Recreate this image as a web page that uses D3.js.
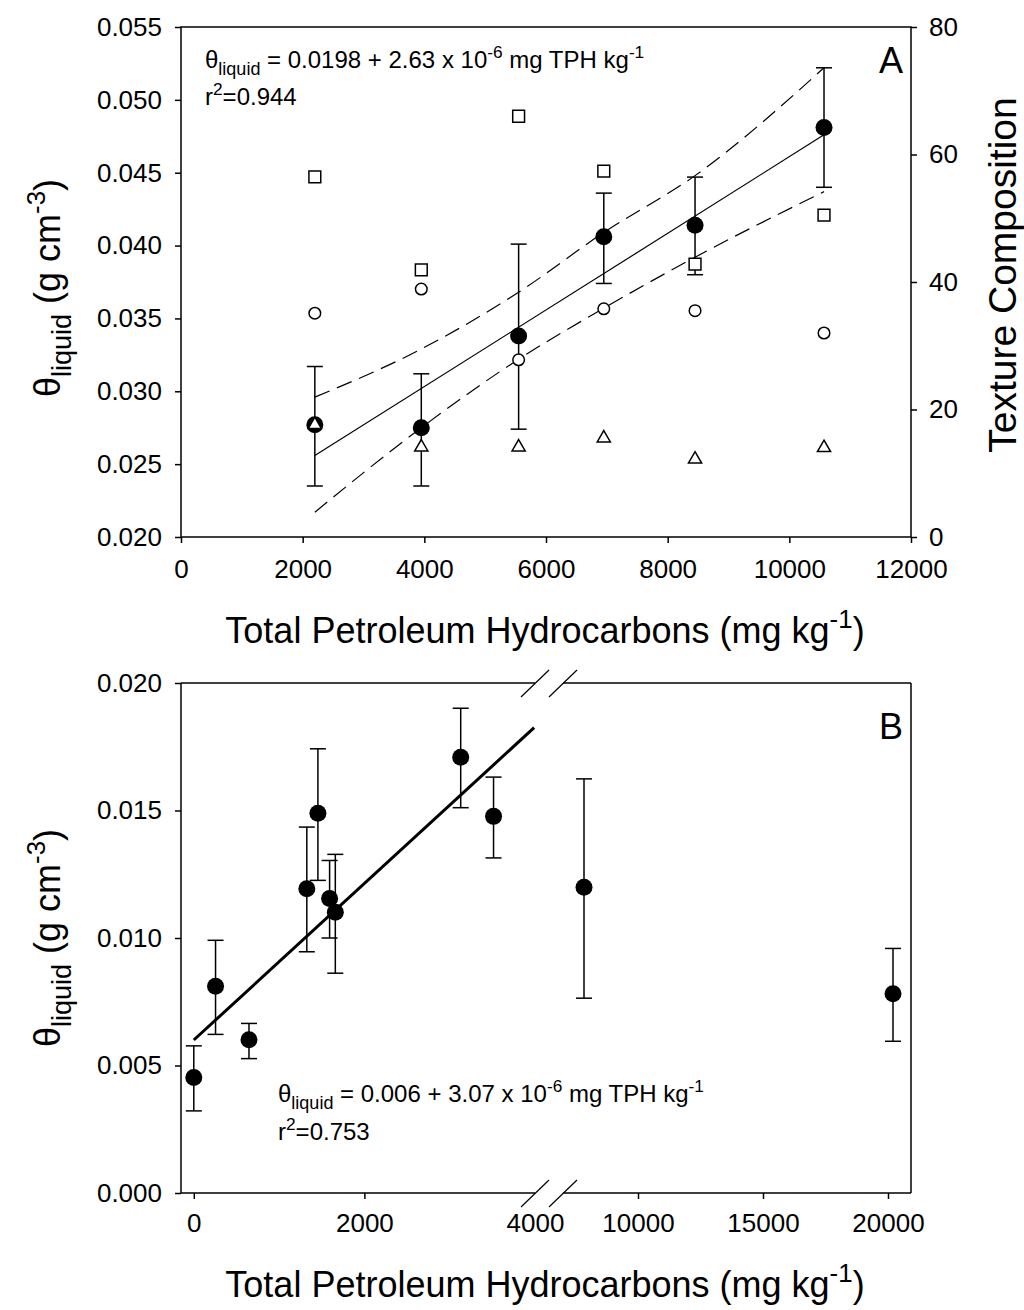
<!DOCTYPE html>
<html>
<head>
<meta charset="utf-8">
<title>Liquid content vs TPH</title>
<script src="https://d3js.org/d3.v7.min.js"></script>
<style>
  body { margin: 0; background: #fff; }
  text { font-family: "Liberation Sans", Arial, sans-serif; fill: #000; }
</style>
</head>
<body>
<svg id="chart" width="1024" height="1310"></svg>
<script>
// ---- panel A data ----
var tphA = [2200, 3950, 5550, 6950, 8450, 10570];
var thetaA = [0.0277, 0.0275, 0.0338, 0.0406, 0.0414, 0.0481];
var errHiA = [0.0317, 0.0312, 0.0401, 0.0436, 0.0447, 0.0522];
var errLoA = [0.0235, 0.0235, 0.0274, 0.0374, 0.0380, 0.0440];
var texSquare = [56.5, 41.9, 66.0, 57.4, 42.8, 50.5];
var texCircle = [35.1, 38.9, 27.8, 35.8, 35.5, 32.0];
var texTriangle = [17.6, 14.1, 14.1, 15.5, 12.2, 14.0];
var bandX = [2200, 3950, 5550, 6950, 8450, 10570];
var bandUpper = [0.0296, 0.0329, 0.0368, 0.0409, 0.0448, 0.0522];
var bandLower = [0.0217, 0.0275, 0.0322, 0.0357, 0.0392, 0.0437];
var fitA = { a: 0.0198, b: 2.63e-6, x0: 2200, x1: 10570 };

// ---- panel B data ----
var tphB = [0, 255, 647, 1325, 1455, 1592, 1659, 3129, 3514, 7840, 20200];
var thetaB = [0.00453, 0.00811, 0.00601, 0.01193, 0.01489, 0.01155, 0.01101, 0.01709, 0.01477, 0.01199, 0.00781];
var errHiB = [0.00577, 0.00991, 0.00665, 0.01435, 0.01742, 0.01304, 0.01328, 0.01901, 0.01631, 0.01624, 0.00959];
var errLoB = [0.00322, 0.00622, 0.00527, 0.00946, 0.01226, 0.01000, 0.00862, 0.01511, 0.01314, 0.00764, 0.00595];
var fitB = { a: 0.006, b: 3.07e-6, x0: 0, x1: 3990 };

// ---- tick labels ----
var ticksYA = [0.020, 0.025, 0.030, 0.035, 0.040, 0.045, 0.050, 0.055];
var ticksXA = [0, 2000, 4000, 6000, 8000, 10000, 12000];
var ticksTex = [0, 20, 40, 60, 80];
var ticksYB = [0.000, 0.005, 0.010, 0.015, 0.020];
var ticksXBL = [0, 2000, 4000];
var ticksXBR = [10000, 15000, 20000];

var svg = d3.select('#chart');
var TICK_FONT = 26, TITLE_FONT = 36, NOTE_FONT = 24;

// text with sub/superscripts
function rich(sel, parts, size) {
  var shift = 0;
  parts.forEach(function(p) {
    var target = 0, fs = size;
    if (p[1] === 'sub') { target = size * 0.3; fs = size * 0.75; }
    if (p[1] === 'sup') { target = -size * 0.42; fs = size * 0.72; }
    sel.append('tspan').attr('font-size', fs).attr('dy', target - shift).text(p[0]);
    shift = target;
  });
}

function styleAxis(g) {
  g.select('.domain').remove();
  g.selectAll('.tick line').attr('stroke', '#000').attr('stroke-width', 1.5);
  g.selectAll('.tick text').attr('font-size', TICK_FONT).attr('fill', '#000')
    .attr('font-family', '"Liberation Sans", Arial, sans-serif');
}

// ================= Panel A =================
var xA = d3.scaleLinear().domain([0, 12000]).range([181, 911]);
var yA = d3.scaleLinear().domain([0.020, 0.055]).range([537, 27]);
var yTex = d3.scaleLinear().domain([0, 80]).range([537, 27]);

var gA = svg.append('g');

gA.append('g').attr('transform', 'translate(0,537)')
  .call(d3.axisBottom(xA).tickValues(ticksXA).tickFormat(d3.format('d')).tickSize(6).tickPadding(17))
  .call(styleAxis);
gA.append('g').attr('transform', 'translate(181,0)')
  .call(d3.axisLeft(yA).tickValues(ticksYA).tickFormat(d3.format('.3f')).tickSize(6).tickPadding(13))
  .call(styleAxis);
gA.append('g').attr('transform', 'translate(911,0)')
  .call(d3.axisRight(yTex).tickValues(ticksTex).tickFormat(d3.format('d')).tickSize(6).tickPadding(12))
  .call(styleAxis);

gA.append('rect').attr('x', 181).attr('y', 27).attr('width', 730).attr('height', 510)
  .attr('fill', 'none').attr('stroke', '#000').attr('stroke-width', 1.5);

// error bars
var ebA = gA.append('g').attr('stroke', '#000').attr('stroke-width', 1.5);
tphA.forEach(function(x, i) {
  var px = xA(x);
  ebA.append('line').attr('x1', px).attr('x2', px).attr('y1', yA(errHiA[i])).attr('y2', yA(errLoA[i]));
  ebA.append('line').attr('x1', px - 8).attr('x2', px + 8).attr('y1', yA(errHiA[i])).attr('y2', yA(errHiA[i]));
  ebA.append('line').attr('x1', px - 8).attr('x2', px + 8).attr('y1', yA(errLoA[i])).attr('y2', yA(errLoA[i]));
});

// regression + confidence band
gA.append('line')
  .attr('x1', xA(fitA.x0)).attr('y1', yA(fitA.a + fitA.b * fitA.x0))
  .attr('x2', xA(fitA.x1)).attr('y2', yA(fitA.a + fitA.b * fitA.x1))
  .attr('stroke', '#000').attr('stroke-width', 1.2);

var bandLine = d3.line().curve(d3.curveMonotoneX)
  .x(function(d) { return xA(d[0]); }).y(function(d) { return yA(d[1]); });
[bandUpper, bandLower].forEach(function(arr) {
  gA.append('path').attr('d', bandLine(d3.zip(bandX, arr)))
    .attr('fill', 'none').attr('stroke', '#000').attr('stroke-width', 1.2)
    .attr('stroke-dasharray', '16,8');
});

// mean theta points
gA.selectAll('circle.mean').data(d3.zip(tphA, thetaA)).enter().append('circle')
  .attr('class', 'mean').attr('cx', function(d) { return xA(d[0]); })
  .attr('cy', function(d) { return yA(d[1]); }).attr('r', 8.5).attr('fill', '#000');

// texture composition
gA.selectAll('path.sq').data(d3.zip(tphA, texSquare)).enter().append('path')
  .attr('class', 'sq').attr('d', d3.symbol().type(d3.symbolSquare).size(140))
  .attr('transform', function(d) { return 'translate(' + xA(d[0]) + ',' + yTex(d[1]) + ')'; })
  .attr('fill', '#fff').attr('stroke', '#000').attr('stroke-width', 1.5);
gA.selectAll('circle.tc').data(d3.zip(tphA, texCircle)).enter().append('circle')
  .attr('class', 'tc').attr('cx', function(d) { return xA(d[0]); })
  .attr('cy', function(d) { return yTex(d[1]); }).attr('r', 5.8)
  .attr('fill', '#fff').attr('stroke', '#000').attr('stroke-width', 1.5);
gA.selectAll('path.tri').data(d3.zip(tphA, texTriangle)).enter().append('path')
  .attr('class', 'tri').attr('d', d3.symbol().type(d3.symbolTriangle).size(75))
  .attr('transform', function(d) { return 'translate(' + xA(d[0]) + ',' + yTex(d[1]) + ')'; })
  .attr('fill', '#fff').attr('stroke', '#000').attr('stroke-width', 1.5);

// annotation
rich(gA.append('text').attr('x', 205).attr('y', 68).attr('font-size', NOTE_FONT),
  [['\u03b8', 'n'], ['liquid', 'sub'], [' = 0.0198 + 2.63 x 10', 'n'], ['-6', 'sup'], [' mg TPH kg', 'n'], ['-1', 'sup']], NOTE_FONT);
rich(gA.append('text').attr('x', 205).attr('y', 105).attr('font-size', NOTE_FONT),
  [['r', 'n'], ['2', 'sup'], ['=0.944', 'n']], NOTE_FONT);
gA.append('text').attr('x', 903).attr('y', 73).attr('text-anchor', 'end').attr('font-size', 36).text('A');

// axis titles
rich(gA.append('text').attr('x', 545).attr('y', 643).attr('text-anchor', 'middle').attr('font-size', TITLE_FONT),
  [['Total Petroleum Hydrocarbons (mg kg', 'n'], ['-1', 'sup'], [')', 'n']], TITLE_FONT);
rich(gA.append('text').attr('transform', 'translate(60,288) rotate(-90)').attr('text-anchor', 'middle').attr('font-size', TITLE_FONT),
  [['\u03b8', 'n'], ['liquid', 'sub'], [' (g cm', 'n'], ['-3', 'sup'], [')', 'n']], TITLE_FONT);
gA.append('text').attr('transform', 'translate(1016,275) rotate(-90)').attr('text-anchor', 'middle')
  .attr('font-size', 39).text('Texture Composition');

// ================= Panel B =================
var yB = d3.scaleLinear().domain([0, 0.020]).range([1193, 683]);
var xBL = d3.scaleLinear().domain([-150, 4000]).range([181, 535]);
var xBR = d3.scaleLinear().domain([7000, 20920]).range([563, 911]);
function xB(v) { return v <= 5000 ? xBL(v) : xBR(v); }

var gB = svg.append('g');

gB.append('g').attr('transform', 'translate(0,1193)')
  .call(d3.axisBottom(xBL).tickValues(ticksXBL).tickFormat(d3.format('d')).tickSize(6).tickPadding(15))
  .call(styleAxis)
  .call(function(g) { g.selectAll('.tick').filter(function(d) { return d === 4000; }).select('line').remove(); });
gB.append('g').attr('transform', 'translate(0,1193)')
  .call(d3.axisBottom(xBR).tickValues(ticksXBR).tickFormat(d3.format('d')).tickSize(6).tickPadding(15))
  .call(styleAxis);
gB.append('g').attr('transform', 'translate(181,0)')
  .call(d3.axisLeft(yB).tickValues(ticksYB).tickFormat(d3.format('.3f')).tickSize(6).tickPadding(13))
  .call(styleAxis);

// frame with breaks
var fr = gB.append('g').attr('stroke', '#000').attr('stroke-width', 1.5);
fr.append('line').attr('x1', 181).attr('x2', 181).attr('y1', 683).attr('y2', 1193);
fr.append('line').attr('x1', 911).attr('x2', 911).attr('y1', 683).attr('y2', 1193);
[683, 1193].forEach(function(y) {
  fr.append('line').attr('x1', 181).attr('x2', xBL(4000)).attr('y1', y).attr('y2', y);
  fr.append('line').attr('x1', xBR(7000)).attr('x2', 911).attr('y1', y).attr('y2', y);
  [xBL(4000), xBR(7000)].forEach(function(cx) {
    fr.append('line').attr('x1', cx - 14).attr('y1', y + 14).attr('x2', cx + 14).attr('y2', y - 13)
      .attr('stroke-width', 1.2);
  });
});

// error bars
var ebB = gB.append('g').attr('stroke', '#000').attr('stroke-width', 1.5);
tphB.forEach(function(x, i) {
  var px = xB(x);
  ebB.append('line').attr('x1', px).attr('x2', px).attr('y1', yB(errHiB[i])).attr('y2', yB(errLoB[i]));
  ebB.append('line').attr('x1', px - 8).attr('x2', px + 8).attr('y1', yB(errHiB[i])).attr('y2', yB(errHiB[i]));
  ebB.append('line').attr('x1', px - 8).attr('x2', px + 8).attr('y1', yB(errLoB[i])).attr('y2', yB(errLoB[i]));
});

gB.append('line')
  .attr('x1', xBL(fitB.x0)).attr('y1', yB(fitB.a + fitB.b * fitB.x0))
  .attr('x2', xBL(fitB.x1)).attr('y2', yB(fitB.a + fitB.b * fitB.x1))
  .attr('stroke', '#000').attr('stroke-width', 3);

gB.selectAll('circle.mean').data(d3.zip(tphB, thetaB)).enter().append('circle')
  .attr('class', 'mean').attr('cx', function(d) { return xB(d[0]); })
  .attr('cy', function(d) { return yB(d[1]); }).attr('r', 8.5).attr('fill', '#000');

rich(gB.append('text').attr('x', 278).attr('y', 1102).attr('font-size', NOTE_FONT),
  [['\u03b8', 'n'], ['liquid', 'sub'], [' = 0.006 + 3.07 x 10', 'n'], ['-6', 'sup'], [' mg TPH kg', 'n'], ['-1', 'sup']], NOTE_FONT);
rich(gB.append('text').attr('x', 278).attr('y', 1140).attr('font-size', NOTE_FONT),
  [['r', 'n'], ['2', 'sup'], ['=0.753', 'n']], NOTE_FONT);
gB.append('text').attr('x', 903).attr('y', 739).attr('text-anchor', 'end').attr('font-size', 36).text('B');

rich(gB.append('text').attr('x', 545).attr('y', 1297).attr('text-anchor', 'middle').attr('font-size', TITLE_FONT),
  [['Total Petroleum Hydrocarbons (mg kg', 'n'], ['-1', 'sup'], [')', 'n']], TITLE_FONT);
rich(gB.append('text').attr('transform', 'translate(60,938) rotate(-90)').attr('text-anchor', 'middle').attr('font-size', TITLE_FONT),
  [['\u03b8', 'n'], ['liquid', 'sub'], [' (g cm', 'n'], ['-3', 'sup'], [')', 'n']], TITLE_FONT);
</script>
</body>
</html>
